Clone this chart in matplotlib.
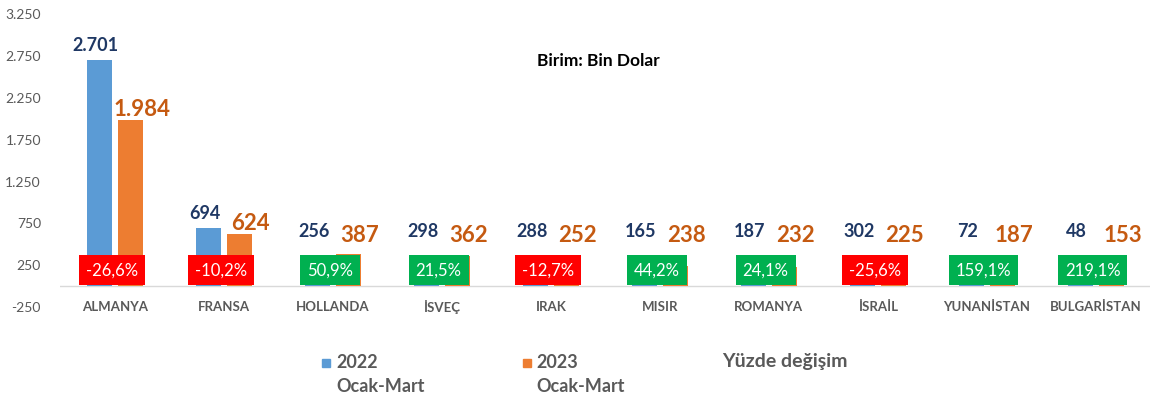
import matplotlib
matplotlib.use("Agg")
import matplotlib.pyplot as plt
import numpy as np

# ulkeler ve degerler (bin dolar)
countries = ["ALMANYA", "FRANSA", "HOLLANDA", "İSVEÇ", "IRAK", "MISIR",
             "ROMANYA", "İSRAİL", "YUNANİSTAN", "BULGARİSTAN"]
val_2022 = [2701, 694, 256, 298, 288, 165, 187, 302, 72, 48]
val_2023 = [1984, 624, 387, 362, 252, 238, 232, 225, 187, 153]
pct_change = [-26.6, -10.2, 50.9, 21.5, -12.7, 44.2, 24.1, -25.6, 159.1, 219.1]
yticks = [-250, 250, 750, 1250, 1750, 2250, 2750, 3250]

plt.rcParams['font.family'] = ['Lato', 'DejaVu Sans']

c_blue = "#5B9BD5"
c_orange = "#ED7D31"
c_navy = "#1F3864"
c_orange_lbl = "#C55A11"
c_gray = "#595959"

def fmt(v):
    return f"{v:,}".replace(",", ".")

fig = plt.figure(figsize=(11.62, 4.03), dpi=100)
ax = fig.add_axes([0.052, 0.238, 0.938, 0.727])

x = np.arange(len(countries))
w = 0.23
off = 0.145
ax.bar(x - off, val_2022, w, color=c_blue, zorder=2)
ax.bar(x + off, val_2023, w, color=c_orange, zorder=2)

ax.set_xlim(-0.5, len(countries) - 0.5)
ax.set_ylim(-250, 3250)
ax.axhline(0, color="#D9D9D9", lw=1, zorder=1)
for s in ax.spines.values():
    s.set_visible(False)
ax.set_xticks([])
ax.set_yticks(yticks)
ax.set_yticklabels([fmt(t) for t in yticks], color=c_gray, fontsize=10)
ax.tick_params(axis="y", length=0, pad=14)

for i in range(len(countries)):
    y1 = max(val_2022[i], 480) + 170
    y2 = max(val_2023[i], 480) + 130
    ax.text(x[i] - off - 0.03, y1, fmt(val_2022[i]), ha="center", va="center",
            color=c_navy, fontsize=13, fontweight="bold", zorder=4)
    ax.text(x[i] + off + 0.1, y2, fmt(val_2023[i]), ha="center", va="center",
            color=c_orange_lbl, fontsize=16, fontweight="bold", zorder=4)
    p = pct_change[i]
    box_c = "#FF0000" if p < 0 else "#00B050"
    ax.text(x[i] - 0.03, 190, f"{p:.1f}%".replace(".", ","), ha="center", va="center",
            color="white", fontsize=12, zorder=5,
            bbox=dict(boxstyle="square,pad=0.42", fc=box_c, ec="none"))
    ax.text(x[i], -250, countries[i], ha="center", va="center", color=c_gray,
            fontsize=9.5, fontweight="bold", clip_on=False)

ax.text(0.494, 0.84, "Birim: Bin Dolar", transform=ax.transAxes, ha="center",
        va="center", fontsize=12.5, fontweight="bold", color="black")

# legend
leg_fs = 13
fig.patches.append(plt.Rectangle((322 / 1162, 1 - 367 / 403), 8 / 1162, 8 / 403,
                                 transform=fig.transFigure, color=c_blue))
fig.patches.append(plt.Rectangle((523 / 1162, 1 - 367 / 403), 8 / 1162, 8 / 403,
                                 transform=fig.transFigure, color=c_orange))
fig.text(336 / 1162, 1 - 362 / 403, "2022", va="center", fontsize=leg_fs,
         fontweight="bold", color=c_gray)
fig.text(336 / 1162, 1 - 386 / 403, "Ocak-Mart", va="center", fontsize=leg_fs,
         fontweight="bold", color=c_gray)
fig.text(536 / 1162, 1 - 362 / 403, "2023", va="center", fontsize=leg_fs,
         fontweight="bold", color=c_gray)
fig.text(536 / 1162, 1 - 386 / 403, "Ocak-Mart", va="center", fontsize=leg_fs,
         fontweight="bold", color=c_gray)
fig.text(722 / 1162, 1 - 362 / 403, "Yüzde değişim", va="center", fontsize=leg_fs + 1,
         fontweight="bold", color=c_gray)

fig.savefig("out.png", dpi=100)
